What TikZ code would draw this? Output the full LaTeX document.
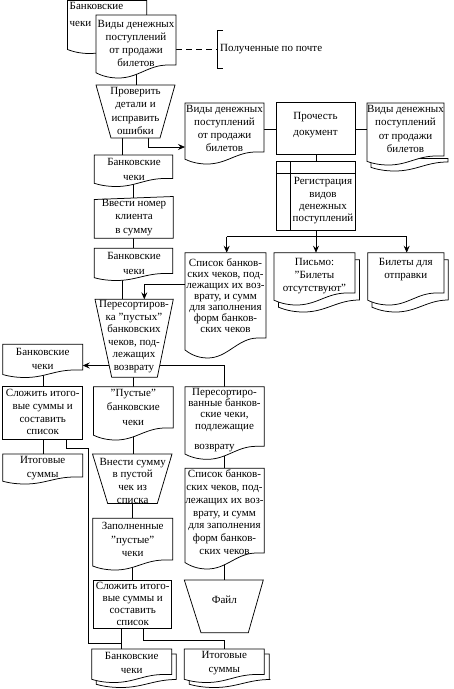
\documentclass[tikz,border=0pt]{standalone}
\usepackage{fontspec}
\setmainfont{Liberation Serif}
\usetikzlibrary{arrows.meta}
\newcommand\fsz[1]{\fontsize{11pt}{#1pt}\selectfont}
% document shape: x1, ytop, x2, ylowest, amplitude
\newcommand\docshape[5]{\draw[shp] (#1,#2) -- (#3,#2) -- (#3,{#4-#5}) -- ({#1+0.9*(#3-#1)},{#4-#5}) .. controls ({#1+0.652*(#3-#1)},{#4-#5}) and ({#1+0.528*(#3-#1)},{#4}) .. ({#1+0.28*(#3-#1)},{#4}) .. controls ({#1+0.14*(#3-#1)},{#4}) and ({#1+0.05*(#3-#1)},{#4-0.25*#5}) .. (#1,{#4-0.4*#5}) -- cycle;}
% stacked documents: front x1, ytop, x2, ylowest, amp, dx, back ytop, back ylowest
\newcommand\multidoc[8]{\docshape{#1+#6}{#7}{#3+#6}{#8}{#5}\docshape{#1}{#2}{#3}{#4}{#5}}
% trapezoid: ytop, xtl, xtr, ybot, xbl, xbr
\newcommand\trap[6]{\draw[shp] (#2,#1) -- (#3,#1) -- (#6,#4) -- (#5,#4) -- cycle;}
\tikzset{
  shp/.style={draw=black, fill=white, line width=0.75pt, line join=miter},
  con/.style={draw=black, line width=0.75pt},
  arr/.style={con, -{Stealth[length=7pt,width=6pt,inset=2.5pt]}},
  txt/.style={font=\fsz{#1}, align=center, inner sep=0pt},
  txt/.default=12.8
}
\begin{document}
\begin{tikzpicture}[x=1pt,y=-1pt]
\useasboundingbox (0,0) rectangle (454,689);
% ---------- ports ----------
\coordinate (d1b) at (136,70);   \coordinate (t1t) at (136,85);
\coordinate (d1r) at (176,49);   \coordinate (brk) at (217.5,49);
\coordinate (t1bl) at (122.7,138); \coordinate (d2t) at (122.7,155);
\coordinate (t1br) at (148,138); \coordinate (d3l) at (185,147);
\coordinate (d2b) at (133.3,176); \coordinate (r3t) at (133.3,198);
\coordinate (r3b) at (133.3,238.3); \coordinate (d8t) at (133.3,248.3);
\coordinate (d8b) at (122.3,272); \coordinate (t2tl) at (122.3,299.3);
\coordinate (d5l) at (185,284.3); \coordinate (t2tr) at (144.3,299.3);
\coordinate (t2l) at (109,365.5); \coordinate (d9r) at (82.7,365.5);
\coordinate (t2r) at (159.8,365.5); \coordinate (d11t) at (224.3,386.7);
\coordinate (t2b) at (133.3,377.3); \coordinate (d10t) at (133.3,386.7);
\coordinate (d9b) at (43.3,368); \coordinate (r4t) at (43.3,386.7);
\coordinate (r4b) at (43.3,439); \coordinate (d12t) at (43.3,454);
\coordinate (r4br) at (66.7,439); \coordinate (bnd) at (88.3,448.3); \coordinate (jl) at (121.7,643.3);
\coordinate (r6bl) at (121.7,628); \coordinate (d14t) at (121.7,649);
\coordinate (r6br) at (143.3,628); \coordinate (jr) at (224.3,640); \coordinate (d15t) at (224.3,649);
\coordinate (d10b) at (133.3,426); \coordinate (t3t) at (133.3,454);
\coordinate (t3b) at (132.7,503.5); \coordinate (d13t) at (132.7,518.3);
\coordinate (d13b) at (132.7,558); \coordinate (r6t) at (132.7,580);
\coordinate (d11b) at (224.3,444); \coordinate (d16t) at (224.3,468.3);
\coordinate (d16b) at (224.3,552); \coordinate (t4t) at (224.3,580);
\coordinate (d3r) at (264,129); \coordinate (r1l) at (276,129);
\coordinate (r1r) at (355,129); \coordinate (d4l) at (367,129);
\coordinate (r1b) at (316,154); \coordinate (r2t) at (316,161.7);
\coordinate (r2b) at (316,230.7); \coordinate (bus) at (316,236.7);
\coordinate (busl) at (226.7,236.7); \coordinate (busr) at (406.7,236.7);
\coordinate (d5t) at (226.7,252.7); \coordinate (d6t) at (316,252.7); \coordinate (d7t) at (406.7,252.7);
% ---------- connectors ----------
\draw[con] (d1b) -- (t1t);
\draw[con, dash pattern=on 6pt off 4pt] (d1r) -- (brk);
\draw[con] (t1bl) -- (d2t);
\draw[arr] (t1br) |- (d3l);
\draw[con] (d2b) -- (r3t);
\draw[con] (r3b) -- (d8t);
\draw[con] (d8b) -- (t2tl);
\draw[arr] (d5l) -| (t2tr);
\draw[arr] (t2l) -- (d9r);
\draw[con] (t2r) -| (d11t);
\draw[con] (t2b) -- (d10t);
\draw[con] (d9b) -- (r4t);
\draw[con] (r4b) -- (d12t);
\draw[con] (r4br) |- (bnd) |- (jl);
\draw[con] (r6bl) -- (d14t);
\draw[con] (r6br) |- (jr) -- (d15t);
\draw[con] (d10b) -- (t3t);
\draw[con] (t3b) -- (d13t);
\draw[con] (d13b) -- (r6t);
\draw[con] (d11b) -- (d16t);
\draw[con] (d16b) -- (t4t);
\draw[con] (d3r) -- (r1l);
\draw[con] (r1r) -- (d4l);
\draw[con] (r1b) -- (r2t);
\draw[con] (r2b) -- (bus);
\draw[con] (busl) -- (busr);
\draw[arr] (busl) -- (d5t);
\draw[arr] (bus) -- (d6t);
\draw[arr] (busr) -- (d7t);
% ---------- shapes ----------
\docshape{67.5}{0.5}{146.7}{53.5}{10}
\docshape{96}{15}{176}{78}{13}
\draw[con] (223,30) -- (217.5,30) -- (217.5,68) -- (223,68);
\trap{85}{96}{175}{138}{111}{160}
\docshape{185}{103}{264}{164}{12}
\draw[shp] (276,102) rectangle (355,154);
\multidoc{367}{103}{444}{165}{9}{4}{158.5}{171}
\draw[shp] (276,161.7) rectangle (355,230.7);
\draw[con] (290.7,161.7) -- (290.7,230.7) (276,173.3) -- (355,173.3);
\docshape{94.3}{155}{172.7}{186.5}{8}
\draw[shp] (94.3,199.5) -- (173.3,196.5) -- (173.3,238.3) -- (94.3,238.3) -- cycle;
\docshape{94.3}{248.3}{172.7}{280.5}{7}
\docshape{185}{252.7}{266}{358}{20}
\multidoc{274}{252.7}{355}{305}{12}{4.5}{259.7}{312}
\multidoc{367.7}{252.7}{444}{305}{12}{4.3}{259.7}{312}
\trap{299.3}{95}{173.3}{377.3}{111.7}{157.3}
\docshape{2.7}{344.3}{82.7}{377.5}{7.5}
\draw[shp] (2.7,386.7) rectangle (82.7,439);
\docshape{2.7}{454}{82.7}{484}{7}
\docshape{93.5}{386.7}{173.3}{440}{12}
\docshape{185}{386.7}{264.3}{459.3}{13}
\trap{454}{92.5}{172}{503.5}{107.7}{157.3}
\docshape{92.7}{518.3}{172.7}{570}{10}
\docshape{185}{468.3}{264.3}{569}{16}
\draw[shp] (93.3,580) rectangle (171.7,628);
\trap{580}{184.3}{263.3}{632.7}{201}{248.3}
\multidoc{91.7}{649}{171.7}{682.5}{8}{4.5}{654}{687.5}
\multidoc{184.3}{649}{264.3}{682.5}{8}{5}{654}{687.5}
% ---------- texts ----------
\node[txt=17, anchor=west, align=left] (d0x) at (69.5,14.5) {Банковские\\чеки};
\node[txt=12.8] (d1x) at (136,43.3) {Виды денежных\\поступлений\\от продажи\\билетов};
\node[txt, anchor=west] (brx) at (220,49.5) {Полученные по почте};
\node[txt=13.3] (t1x) at (135.5,111) {Проверить\\детали и\\исправить\\ошибки};
\node[txt=13.1] (d3x) at (224.5,128.5) {Виды денежных\\поступлений\\от продажи\\билетов};
\node[txt=16] (r1x) at (315.5,125) {Прочесть\\документ};
\node[txt=13.3] (d4x) at (405.5,129) {Виды денежных\\поступлений\\от продажи\\билетов};
\node[txt=12.3] (r2x) at (323,200.8) {Регистрация\\видов\\денежных\\поступлений};
\node[txt=15] (d2x) at (134,169.2) {Банковские\\чеки};
\node[txt=13.3] (r3x) at (134,217.3) {Ввести номер\\клиента\\в сумму};
\node[txt=14.7] (d8x) at (134,263.3) {Банковские\\чеки};
\node[txt=11] (d5x) at (225.5,295.8) {Список банков-\\ских чеков, под-\\лежащих их воз-\\врату, и сумм\\для заполнения\\форм банков-\\ских чеков};
\node[txt=13.3] (d6x) at (314.5,276) {Письмо:\\"Билеты\\отсутствуют"};
\node[txt=13] (d7x) at (405.8,269.2) {Билеты для\\отправки};
\node[txt=12.6] (t2x) at (134,336.5) {Пересортиров-\\ка "пустых"\\банковских\\чеков, под-\\лежащих\\возврату};
\node[txt=13.4] (d9x) at (42.7,359) {Банковские\\чеки};
\node[txt=12.6] (r4x) at (42.7,412.2) {Сложить итого-\\вые суммы и\\составить\\список};
\node[txt=14] (d12x) at (42.7,468) {Итоговые\\суммы};
\node[txt=14.5] (d10x) at (133.3,407.2) {"Пустые"\\банковские\\чеки};
\node[txt=11.1] (d11x) at (224.5,420) {Пересортиро-\\ванные банков-\\ские чеки,\\подлежащие\\[9pt]возврату\hspace*{20pt}};
\node[txt=12.8] (t3x) at (132.7,480.8) {Внести сумму\\в пустой\\чек из\\списка};
\node[txt=13.6] (d13x) at (132.7,539.6) {Заполненные\\"пустые"\\чеки};
\node[txt=12.8] (d16x) at (224.5,512.2) {Список банков-\\ских чеков, под-\\лежащих их воз-\\врату, и сумм\\для заполнения\\форм банков-\\ских чеков};
\node[txt=12] (r6x) at (132.7,604) {Сложить итого-\\вые суммы и\\составить\\список};
\node[txt] (t4x) at (224.3,599.3) {Файл};
\node[txt=14] (d14x) at (131.7,663) {Банковские\\чеки};
\node[txt=14] (d15x) at (224.3,663) {Итоговые\\суммы};
\end{tikzpicture}
\end{document}
